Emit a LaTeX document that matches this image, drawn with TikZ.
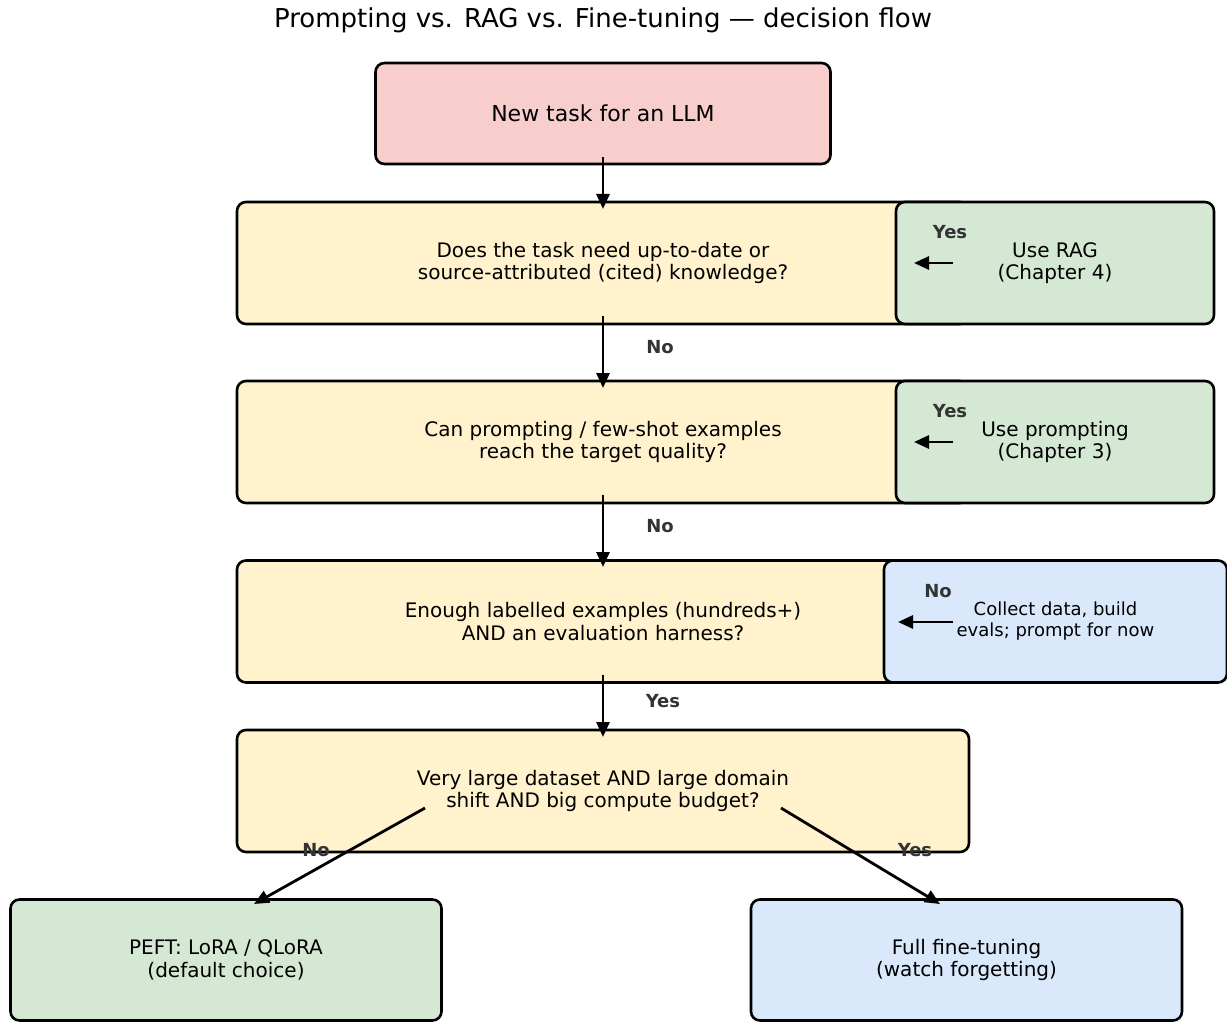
\documentclass[tikz,border=0pt]{standalone}
\usepackage{fontspec}
\setmainfont{DejaVu Sans}
\usetikzlibrary{arrows.meta}
\definecolor{cpink}{HTML}{F8CECC}
\definecolor{cyel}{HTML}{FFF2CC}
\definecolor{cgreen}{HTML}{D5E8D4}
\definecolor{cblue}{HTML}{DAE8FC}
\definecolor{clab}{HTML}{333333}
\begin{document}
\begin{tikzpicture}[x=1pt,y=-1pt,
  boxbase/.style={draw=black, line width=2.6pt, rounded corners=9pt, inner sep=0pt, align=center, font=\fontsize{20}{22.5}\selectfont},
  startbox/.style={boxbase, fill=cpink, minimum width=455pt, minimum height=101pt, font=\fontsize{22}{26}\selectfont},
  qbox/.style={boxbase, fill=cyel, minimum width=732pt, minimum height=122pt},
  gbox/.style={boxbase, fill=cgreen, minimum width=318pt, minimum height=122pt},
  bbox/.style={boxbase, fill=cblue, minimum width=343pt, minimum height=122pt},
  endbox/.style={boxbase, minimum width=431pt, minimum height=121pt},
  arr/.style={-{Triangle[length=15pt,width=13pt]}, line width=2.8pt},
  lab/.style={font=\fontsize{18}{20}\bfseries\selectfont, text=clab, inner sep=0pt}
]
\useasboundingbox (0,0) rectangle (1227,1022);
\node[font=\fontsize{26}{30}\selectfont] (title) at (603,20) {Prompting vs. RAG vs. Fine-tuning — decision flow};

\node[startbox] (start) at (603,113.5) {New task for an LLM};

\node[qbox] (q1) at (603,263) {Does the task need up-to-date or\\source-attributed (cited) knowledge?};
\node[qbox] (q2) at (603,442) {Can prompting / few-shot examples\\reach the target quality?};
\node[qbox] (q3) at (603,621.5) {Enough labelled examples (hundreds+)\\AND an evaluation harness?};
\node[qbox] (q4) at (603,791) {Very large dataset AND large domain\\shift AND big compute budget?};

\node[gbox] (rag) at (1055,263) {Use RAG\\(Chapter 4)};
\node[gbox] (prm) at (1055,442) {Use prompting\\(Chapter 3)};
\node[bbox, font=\fontsize{18}{21}\selectfont] (col) at (1055.5,621.5) {Collect data, build\\evals; prompt for now};

\node[endbox, fill=cgreen] (peft) at (226,960) {PEFT: LoRA / QLoRA\\(default choice)};
\node[endbox, fill=cblue] (full) at (966.5,960) {Full fine-tuning\\(watch forgetting)};

\coordinate (a1s) at (603,157);
\coordinate (a1e) at (603,209);
\draw[arr] (a1s) -- (a1e);

\coordinate (a2s) at (603,316);
\coordinate (a2e) at (603,388);
\draw[arr] (a2s) -- (a2e);
\node[lab] (l2) at (660,347) {No};

\coordinate (a3s) at (603,495);
\coordinate (a3e) at (603,567);
\draw[arr] (a3s) -- (a3e);
\node[lab] (l3) at (660,526) {No};

\coordinate (a4s) at (603,675);
\coordinate (a4e) at (603,737);
\draw[arr] (a4s) -- (a4e);
\node[lab] (l4) at (663,701) {Yes};

\coordinate (r1s) at (953,263);
\coordinate (r1e) at (914,263);
\draw[arr] (r1s) -- (r1e);
\node[lab] (lr1) at (950,232) {Yes};

\coordinate (r2s) at (953,442);
\coordinate (r2e) at (914,442);
\draw[arr] (r2s) -- (r2e);
\node[lab] (lr2) at (950,411) {Yes};

\coordinate (r3s) at (953,622);
\coordinate (r3e) at (898,622);
\draw[arr] (r3s) -- (r3e);
\node[lab] (lr3) at (938,591) {No};

\coordinate (b1s) at (425,808);
\coordinate (b1e) at (254,904);
\draw[arr] (b1s) -- (b1e);
\node[lab] (lb1) at (316,850) {No};

\coordinate (b2s) at (781,808);
\coordinate (b2e) at (940,904);
\draw[arr] (b2s) -- (b2e);
\node[lab] (lb2) at (915,850) {Yes};
\end{tikzpicture}
\end{document}
